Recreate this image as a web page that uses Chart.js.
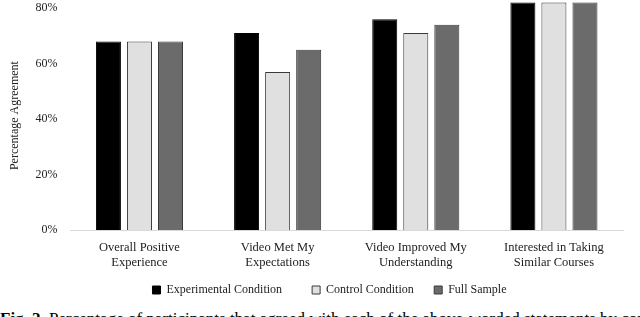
<!DOCTYPE html>
<html>
<head>
<meta charset="utf-8">
<script src="https://cdn.jsdelivr.net/npm/chart.js@4/dist/chart.umd.min.js"></script>
<style>
  html, body { margin: 0; padding: 0; background: #fff; }
  body { width: 640px; height: 317px; overflow: hidden; position: relative; }
  #wrap { position: absolute; left: 0; top: -11px; width: 640px; height: 317px; }
  #caption {
    position: absolute; left: 0; top: 309px; white-space: nowrap;
    font-family: "Liberation Serif", serif; font-size: 17px; color: #000;
  }
  #probe { position: absolute; left: -999px; font-family: "Liberation Serif"; }
</style>
</head>
<body>
<span id="probe">0%</span>
<div id="wrap"><canvas id="chart" width="640" height="317"></canvas></div>
<div id="caption"><b>Fig. 2.</b> Percentage of participants that agreed with each of the above-worded statements by condition</div>
<script>
// --- data ---
const categories = [
  ["Overall Positive", "Experience"],
  ["Video Met My", "Expectations"],
  ["Video Improved My", "Understanding"],
  ["Interested in Taking", "Similar Courses"]
];
const experimental = [68, 71, 76, 82];
const control = [68, 57, 71, 82];
const fullSample = [68, 65, 74, 82];
const yTicks = [0, 20, 40, 60, 80];

const serif = "Liberation Serif";

// legend sits a little right of centre in the original
const legendShift = {
  id: "legendShift",
  afterLayout(chart) {
    const lg = chart.legend;
    if (lg) { lg.left += 14; lg.right += 14; }
  }
};

function draw() {
  Chart.defaults.font.family = serif;
  new Chart(document.getElementById("chart"), {
    type: "bar",
    data: {
      labels: categories,
      datasets: [
        { label: "Experimental Condition", data: experimental, backgroundColor: "#000000", borderColor: "#000000", borderWidth: 1 },
        { label: "Control Condition", data: control, backgroundColor: "#e0e0e0", borderColor: "#3a3a3a", borderWidth: 1 },
        { label: "Full Sample", data: fullSample, backgroundColor: "#6b6b6b", borderColor: "#3a3a3a", borderWidth: 1 }
      ]
    },
    plugins: [legendShift],
    options: {
      responsive: false,
      animation: false,
      categoryPercentage: 0.674,
      barPercentage: 0.806,
      layout: { padding: { left: 8, right: 17, top: 0, bottom: 0 } },
      scales: {
        x: {
          grid: { display: false },
          border: { display: true, color: "#d9d9d9", width: 1 },
          ticks: { color: "#222", font: { family: serif, size: 12.5 }, padding: 2, maxRotation: 0 }
        },
        y: {
          min: 0,
          max: 82.5,
          afterBuildTicks: (axis) => { axis.ticks = yTicks.map((v) => ({ value: v })); },
          grid: { display: false },
          border: { display: false },
          ticks: {
            color: "#222",
            font: { family: serif, size: 12 },
            padding: 5,
            callback: (v) => v + "%"
          },
          title: {
            display: true,
            text: "Percentage Agreement",
            color: "#222",
            font: { family: serif, size: 12 },
            padding: { top: 0, bottom: 8 }
          }
        }
      },
      plugins: {
        legend: {
          position: "bottom",
          labels: {
            boxWidth: 8,
            boxHeight: 8,
            padding: 12,
            color: "#222",
            font: { family: serif, size: 12 },
            generateLabels: (chart) => {
              const items = Chart.defaults.plugins.legend.labels.generateLabels(chart);
              const pad = ["\u2003\u2002", "\u2002\u2009", ""];
              items.forEach((it, i) => { it.text = it.text + pad[i]; });
              return items;
            }
          }
        },
        tooltip: { enabled: false }
      }
    }
  });
}

document.fonts.load("13px 'Liberation Serif'").then(draw, draw);
</script>
</body>
</html>
